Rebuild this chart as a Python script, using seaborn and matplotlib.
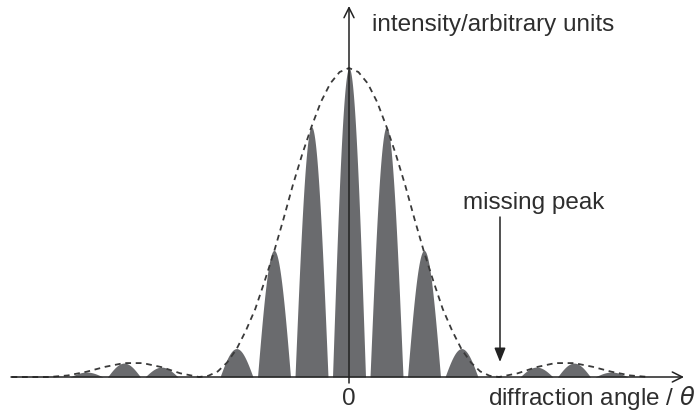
import numpy as np
import pandas as pd
import matplotlib
matplotlib.use("Agg")
import matplotlib.pyplot as plt
import seaborn as sns

# ---- data (x in fringe orders, y normalised intensity) ----
fringe_order = [-7, -6, -5, -3, -2, -1, 0, 1, 2, 3, 5, 6, 7]
peak_height = [0.016, 0.045, 0.032, 0.092, 0.41, 0.81, 1.0, 0.81, 0.41, 0.092, 0.032, 0.045, 0.016]

envelope_x = [-9.0, -8.0, -7.5, -7.0, -6.5, -6.0, -5.5, -5.0, -4.5, -4.0, -3.75, -3.5, -3.25,
              -3.0, -2.75, -2.5, -2.25, -2.0, -1.75, -1.5, -1.25, -1.0, -0.75, -0.5, -0.25,
              0.0, 0.25, 0.5, 0.75, 1.0, 1.25, 1.5, 1.75, 2.0, 2.25, 2.5, 2.75, 3.0, 3.25,
              3.5, 3.75, 4.0, 4.5, 5.0, 5.5, 6.0, 6.5, 7.0, 7.5, 8.0]
envelope_y = [0.0, 0.0, 0.005, 0.017, 0.033, 0.045, 0.045, 0.032, 0.012, 0.0, 0.004, 0.018, 0.047,
              0.09, 0.15, 0.22, 0.31, 0.405, 0.51, 0.62, 0.72, 0.81, 0.89, 0.95, 0.987,
              1.0, 0.987, 0.95, 0.89, 0.81, 0.72, 0.62, 0.51, 0.405, 0.31, 0.22, 0.15, 0.09, 0.047,
              0.018, 0.004, 0.0, 0.012, 0.032, 0.045, 0.045, 0.033, 0.017, 0.005, 0.0]

x_label = "diffraction angle / $\\mathit{\\theta}$"
y_label = "intensity/arbitrary units"
note_label = "missing peak"
zero_tick = "0"

# ---- figure ----
sns.set_theme(style="white")
plt.rcParams["font.family"] = ["Liberation Sans", "DejaVu Sans"]
plt.rcParams["mathtext.fontset"] = "dejavusans"

W, H = 699, 413
fig = plt.figure(figsize=(W / 100, H / 100), dpi=100)
ax = fig.add_axes([0, 0, 1, 1])
ax.set_axis_off()

px_per_order = 37.5
x0_px, base_px, top_px = 349, 377, 68
unit_px = base_px - top_px
ax.set_xlim(-x0_px / px_per_order, (W - x0_px) / px_per_order)
ax.set_ylim(-(H - base_px) / unit_px, base_px / unit_px)

fill_col = "#6a6b6e"
lobe_w = 0.88
for k, h in zip(fringe_order, peak_height):
    u = np.linspace(-lobe_w / 2, lobe_w / 2, 80)
    ax.fill_between(k + u, 0, h * np.cos(np.pi * u / lobe_w), color=fill_col, lw=0, zorder=2)

env = pd.DataFrame({"x": envelope_x, "y": envelope_y})
sns.lineplot(data=env, x="x", y="y", ax=ax, color="#3a3a3a", lw=1.3, sort=False,
             zorder=3).lines[-1].set_dashes((3.2, 2.6))

def fx(px):
    return (px - x0_px) / px_per_order

def fy(py):
    return (base_px - py) / unit_px

axis_col = "#222222"
ax.annotate("", xy=(fx(684), 0), xytext=(fx(11), 0),
            arrowprops=dict(arrowstyle="->,head_length=0.6,head_width=0.3", color=axis_col,
                            lw=1.1, shrinkA=0, shrinkB=0), zorder=4)
ax.annotate("", xy=(0, fy(6)), xytext=(0, fy(383)),
            arrowprops=dict(arrowstyle="->,head_length=0.6,head_width=0.3", color=axis_col,
                            lw=1.1, shrinkA=0, shrinkB=0), zorder=4)
ax.annotate("", xy=(fx(500), fy(362)), xytext=(fx(500), fy(217)),
            arrowprops=dict(arrowstyle="-|>,head_length=0.7,head_width=0.28", color=axis_col,
                            lw=1.1, shrinkA=0, shrinkB=0), zorder=4)

fs = 17.5
tc = "#2e2e2e"
ax.text(fx(372), fy(31), y_label, fontsize=fs, color=tc, ha="left", va="baseline")
ax.text(fx(463), fy(209), note_label, fontsize=fs, color=tc, ha="left", va="baseline")
ax.text(0, fy(405), zero_tick, fontsize=fs, color=tc, ha="center", va="baseline")
ax.text(fx(488), fy(405), x_label, fontsize=fs, color=tc, ha="left", va="baseline")

fig.savefig("out.png", dpi=100, facecolor="white")
